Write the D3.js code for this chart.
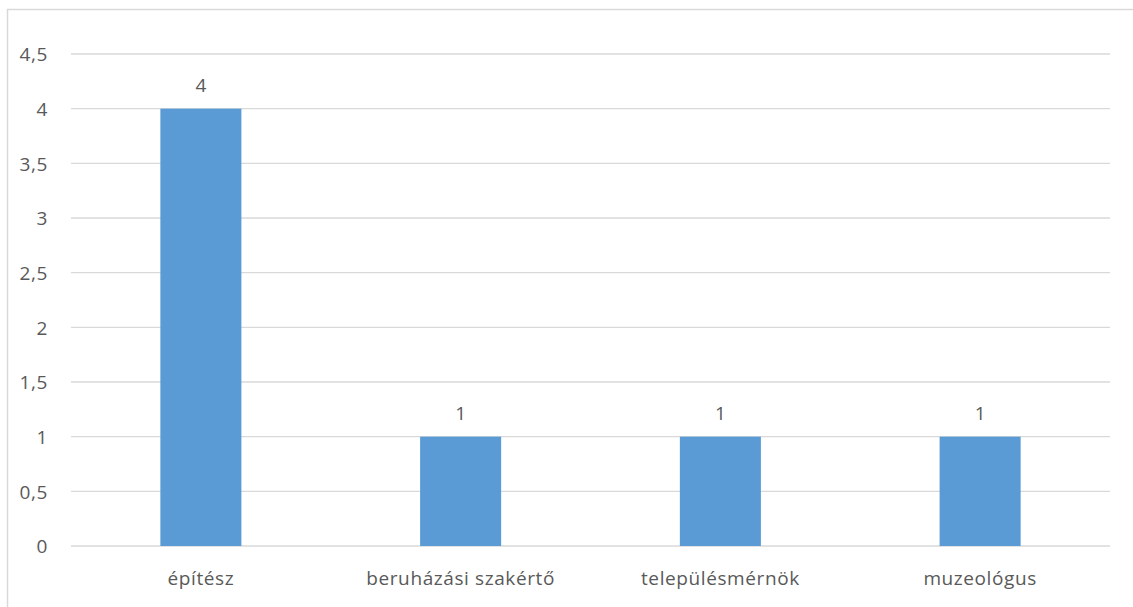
<!DOCTYPE html>
<html>
<head>
<meta charset="utf-8">
<script src="https://cdn.jsdelivr.net/npm/d3@7"></script>
<style>
  html, body { margin: 0; padding: 0; background: #fff; }
  svg { display: block; }
  text { font-family: "Open Sans", Lato, sans-serif; fill: #595959; }
</style>
</head>
<body>
<svg id="chart" width="1133" height="607"></svg>
<script>
// Number of people per profession
const categories = ["építész", "beruházási szakértő", "településmérnök", "muzeológus"];
const values = [4, 1, 1, 1];
const yTicks = [0, 0.5, 1, 1.5, 2, 2.5, 3, 3.5, 4, 4.5];

const svg = d3.select("#chart");
const W = 1133, H = 607;
const margin = { left: 71, right: 23, top: 54, bottom: 61 };
const FS = 19;
const LS = 0.6;
const FONT = "'Open Sans', Lato, sans-serif";

// outer chart frame (runs past the right and bottom edges)
svg.append("rect")
  .attr("x", 7.5).attr("y", 9.5)
  .attr("width", W + 20).attr("height", H + 20)
  .attr("fill", "none").attr("stroke", "#d9d9d9").attr("stroke-width", 1.5);

const x = d3.scaleBand()
  .domain(categories)
  .range([margin.left, W - margin.right])
  .paddingInner(0.688).paddingOuter(0.344);

const y = d3.scaleLinear()
  .domain([0, 4.5])
  .range([H - margin.bottom, margin.top]);

// horizontal gridlines
svg.append("g")
  .selectAll("line")
  .data(yTicks)
  .join("line")
  .attr("x1", margin.left).attr("x2", W - margin.right)
  .attr("y1", d => y(d)).attr("y2", d => y(d))
  .attr("stroke", "#d9d9d9").attr("stroke-width", 1.3);

// y-axis labels with decimal comma
const fmt = d => String(d).replace(".", ",");
const yAxis = d3.axisLeft(y).tickValues(yTicks).tickFormat(fmt).tickSize(0).tickPadding(0);
const gy = svg.append("g").attr("transform", `translate(48,0)`).call(yAxis);
gy.select(".domain").remove();
gy.selectAll("text")
  .attr("font-size", FS)
  .attr("font-family", FONT)
  .attr("letter-spacing", LS)
  .attr("fill", "#595959")
  .attr("dy", "0.36em");

// bars
svg.append("g")
  .selectAll("rect")
  .data(values)
  .join("rect")
  .attr("x", (d, i) => x(categories[i]))
  .attr("width", x.bandwidth())
  .attr("y", d => y(d))
  .attr("height", d => y(0) - y(d))
  .attr("fill", "#5b9bd5");

// value labels
svg.append("g")
  .selectAll("text")
  .data(values)
  .join("text")
  .attr("x", (d, i) => x(categories[i]) + x.bandwidth() / 2)
  .attr("y", d => y(d) - 17)
  .attr("text-anchor", "middle")
  .attr("font-size", FS)
  .attr("font-family", FONT)
  .text(d => d);

// category labels
const xAxis = d3.axisBottom(x).tickSize(0).tickPadding(0);
const gx = svg.append("g").attr("transform", `translate(0,${y(0)})`).call(xAxis);
gx.select(".domain").remove();
gx.selectAll("text")
  .attr("font-size", FS)
  .attr("font-family", FONT)
  .attr("letter-spacing", LS)
  .attr("fill", "#595959")
  .attr("dy", null)
  .attr("y", 39);
</script>
</body>
</html>
